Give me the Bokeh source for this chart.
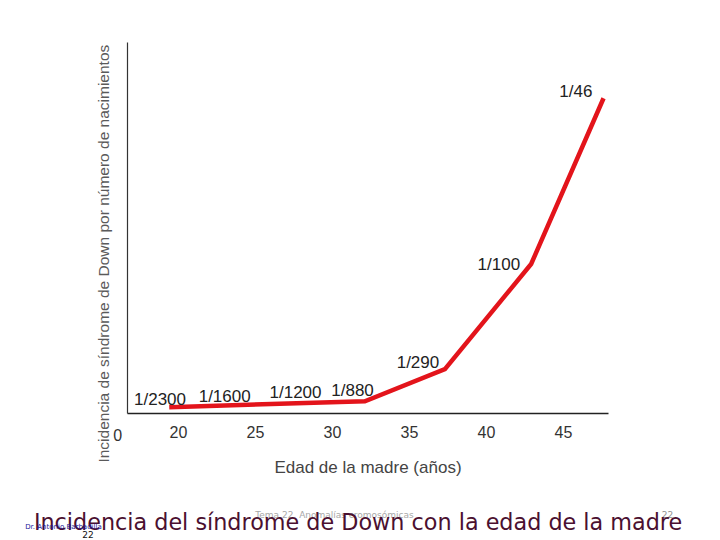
import math
from bokeh.plotting import figure
from bokeh.models import ColumnDataSource, Range1d, FixedTicker, Label, LinearAxis
from bokeh.embed import file_html
from bokeh.resources import INLINE

# Data (mother's age in years, incidence in cases per 1000 births as drawn)
ages = [19.4, 32.1, 37.3, 42.9, 47.6]
incidence = [0.43, 0.83, 3.0, 10.1, 21.3]

# Annotations of incidence
label_text = ["1/2300", "1/1600", "1/1200", "1/880", "1/290", "1/100", "1/46"]
label_x = [18.8, 23.0, 27.6, 31.3, 35.55, 40.8, 45.8]
label_y = [0.95, 1.15, 1.42, 1.55, 3.45, 10.07, 21.76]

# Axis ticks
x_ticks = [20, 25, 30, 35, 40, 45]
x_tick_labels = ["20", "25", "30", "35", "40", "45"]
origin_label = "0"
x_axis_start, x_axis_end = 16.69, 47.92
y_axis_start, y_axis_end = 0, 25.07

x_title = "Edad de la madre (años)"
y_title = "Incidencia de síndrome de Down por número de nacimientos"
slide_title = "Incidencia del síndrome de Down con la edad de la madre"
footer_center = "Tema 22. Anomalías cromosómicas"
footer_author = "Dr. Antonio Barbadilla"
footer_page = "22"

p = figure(width=720, height=540, output_backend="svg", toolbar_location=None,
           x_range=Range1d(8.442, 55.195), y_range=Range1d(-8.581, 27.905),
           x_axis_type=None, y_axis_type=None, min_border=0)
p.outline_line_color = None
p.background_fill_color = "white"
p.border_fill_color = "white"

# x axis (fixed at y = 0)
xa = LinearAxis(fixed_location=0, bounds=(x_axis_start, x_axis_end))
xa.ticker = FixedTicker(ticks=x_ticks)
xa.major_label_overrides = {t: l for t, l in zip(x_ticks, x_tick_labels)}
xa.major_tick_out = 0
xa.major_tick_in = 0
xa.minor_tick_out = 0
xa.minor_tick_in = 0
xa.major_label_standoff = 13
xa.major_label_text_font = "Liberation Sans"
xa.major_label_text_font_size = "16px"
xa.major_label_text_color = "#333333"
xa.axis_line_color = "#222222"
xa.axis_line_width = 1.5
xa.axis_label = x_title
xa.axis_label_text_font = "Liberation Sans"
xa.axis_label_text_font_size = "17px"
xa.axis_label_text_font_style = "normal"
xa.axis_label_text_color = "#444444"
xa.axis_label_standoff = 16
p.add_layout(xa, "below")

# y axis (fixed at the start of the x axis): line only
ya = LinearAxis(fixed_location=x_axis_start, bounds=(y_axis_start, y_axis_end))
ya.ticker = FixedTicker(ticks=[])
ya.major_tick_out = 0
ya.minor_tick_out = 0
ya.major_label_text_font_size = "0px"
ya.axis_line_color = "#333333"
ya.axis_line_width = 1.2
p.add_layout(ya, "left")

src = ColumnDataSource(dict(x=ages, y=incidence))
p.line("x", "y", source=src, line_color="#e3141b", line_width=4.5, line_join="miter")

lsrc = ColumnDataSource(dict(x=label_x, y=label_y, t=label_text))
p.text("x", "y", text="t", source=lsrc, text_align="center", text_baseline="alphabetic",
       text_font_size="17px", text_color="#222222",
       text_font={"value": "Liberation Sans"})

def add_label(**kw):
    p.add_layout(Label(**kw))

# origin "0" (drawn left of the y axis)
add_label(x=16.05, y=-1.42, text=origin_label, text_align="center",
          text_baseline="middle", text_font="Liberation Sans",
          text_font_size="16px", text_color="#333333")

# y title
add_label(x=15.13, y=10.8, text=y_title, angle=math.pi / 2,
          text_align="center", text_baseline="middle",
          text_font="Liberation Sans", text_font_size="15.5px",
          text_color="#5a5a5a")

# footers (drawn first so the title sits over them)
add_label(x=30.13, y=-6.89, text=footer_center, text_align="center",
          text_baseline="middle", text_font="DejaVu Sans",
          text_font_size="9px", text_color="#a8a8a8")
add_label(x=51.75, y=-6.85, text=footer_page, text_align="center",
          text_baseline="middle", text_font="DejaVu Sans",
          text_font_size="9px", text_color="#909090")

# slide title
add_label(x=31.66, y=-7.36, text=slide_title, text_align="center",
          text_baseline="alphabetic", text_font="DejaVu Sans",
          text_font_size="22.3px", text_color="#4b1030")

add_label(x=12.53, y=-7.64, text=footer_author, text_align="center",
          text_baseline="alphabetic", text_font="DejaVu Sans",
          text_font_size="7px", text_color="#1a1a9a")
add_label(x=14.12, y=-8.18, text=footer_page, text_align="center",
          text_baseline="middle", text_font="DejaVu Sans",
          text_font_size="9px", text_color="#111111")

open("out.html", "w").write(file_html(p, INLINE))
